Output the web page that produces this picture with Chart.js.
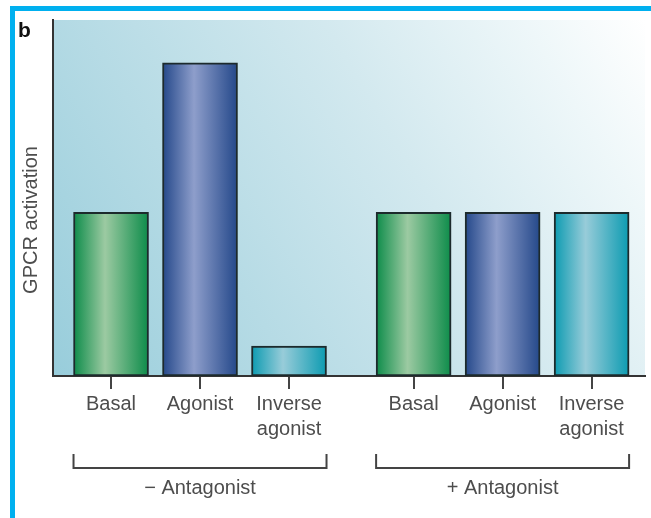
<!DOCTYPE html>
<html>
<head>
<meta charset="utf-8">
<script src="https://cdn.jsdelivr.net/npm/chart.js@4/dist/chart.umd.min.js"></script>
<style>
  html, body { margin: 0; padding: 0; background: #fff; }
  #wrap { width: 651px; height: 518px; }
</style>
</head>
<body>
<div id="wrap"><canvas id="chart"></canvas></div>
<script>
// Datos
const categories = ['Basal', 'Agonist', 'Inverse agonist'];
const groups = ['\u2212 Antagonist', '+ Antagonist'];
const withoutAntagonist = [46, 88, 8.4];
const withAntagonist = [46, 46, 46];
const yAxisTitle = 'GPCR activation';
const panelLetter = 'b';

// posiciones en el eje lineal: 3 barras por grupo, hueco entre grupos
const GROUP_STEP = 3.4;
const xPos = [];
const values = [];
const labels = [];
[withoutAntagonist, withAntagonist].forEach((serie, g) => {
    serie.forEach((v, i) => {
        xPos.push(g * GROUP_STEP + i);
        values.push(v);
        labels.push(categories[i]);
    });
});

const FONT = '"Liberation Sans", Arial, Helvetica, sans-serif';
const TEXT = '#4d4d4d';
const BAR_W = 75;

// [oscuro, claro] por tipo de barra
const shades = [
    ['#0d8c4a', '#9ccaa2'],
    ['#24488a', '#8e9ecb'],
    ['#0c9bb1', '#98ccd9']
];

function barFill(c) {
    const chart = c.chart;
    const sx = chart.scales.x;
    const pair = shades[c.dataIndex % 3];
    if (!sx || c.type !== 'data') return pair[0];
    const px = sx.getPixelForValue(xPos[c.dataIndex]);
    if (!isFinite(px)) return pair[0];
    const g = chart.ctx.createLinearGradient(px - BAR_W / 2, 0, px + BAR_W / 2, 0);
    g.addColorStop(0, pair[0]);
    g.addColorStop(0.42, pair[1]);
    g.addColorStop(1, pair[0]);
    return g;
}

// Fondo, marco y textos sueltos
const decor = {
    id: 'decor',
    beforeDraw(chart) {
        const { ctx, chartArea: a } = chart;
        ctx.save();
        ctx.fillStyle = '#fff';
        ctx.fillRect(0, 0, chart.width, chart.height);

        const bg = ctx.createLinearGradient(a.left, a.bottom, a.right, a.top);
        bg.addColorStop(0, '#98cddb');
        bg.addColorStop(0.3, '#b6dbe5');
        bg.addColorStop(0.6, '#d3e9ef');
        bg.addColorStop(0.85, '#eef7f9');
        bg.addColorStop(1, '#ffffff');
        ctx.fillStyle = bg;
        ctx.fillRect(a.left, a.top, a.right - a.left, a.bottom - a.top);

        // marco cian
        ctx.fillStyle = '#00b0ef';
        ctx.fillRect(10, 6, chart.width - 10, 5);
        ctx.fillRect(10, 6, 5, chart.height - 6);
        ctx.restore();
    },
    afterDraw(chart) {
        const { ctx } = chart;
        const sx = chart.scales.x;
        ctx.save();

        // letra del panel
        ctx.fillStyle = '#111';
        ctx.font = 'bold 21px ' + FONT;
        ctx.textAlign = 'left';
        ctx.textBaseline = 'alphabetic';
        ctx.fillText(panelLetter, 18, 37);

        // título del eje Y
        ctx.translate(37, 220);
        ctx.rotate(-Math.PI / 2);
        ctx.fillStyle = TEXT;
        ctx.font = '20px ' + FONT;
        ctx.textAlign = 'center';
        ctx.fillText(yAxisTitle, 0, 0);
        ctx.setTransform(1, 0, 0, 1, 0, 0);

        // corchetes de grupo
        ctx.strokeStyle = '#444';
        ctx.lineWidth = 2;
        groups.forEach((name, g) => {
            const first = sx.getPixelForValue(xPos[g * 3]) - BAR_W / 2;
            const last = sx.getPixelForValue(xPos[g * 3 + 2]) + BAR_W / 2;
            ctx.beginPath();
            ctx.moveTo(first, 454);
            ctx.lineTo(first, 468);
            ctx.lineTo(last, 468);
            ctx.lineTo(last, 454);
            ctx.stroke();
            ctx.fillStyle = TEXT;
            ctx.font = '20px ' + FONT;
            ctx.textAlign = 'center';
            ctx.fillText(name, (first + last) / 2, 494);
        });
        ctx.restore();
    }
};

new Chart(document.getElementById('chart'), {
    type: 'bar',
    data: {
        datasets: [{
            data: xPos.map((x, i) => ({ x: x, y: values[i] })),
            backgroundColor: barFill,
            borderColor: '#1c2a2c',
            borderWidth: 2,
            borderSkipped: false,
            barThickness: BAR_W
        }]
    },
    options: {
        responsive: true,
        maintainAspectRatio: false,
        animation: false,
        layout: { padding: { top: 20, right: 6, left: 0, bottom: 0 } },
        plugins: { legend: { display: false }, tooltip: { enabled: false } },
        scales: {
            x: {
                type: 'linear',
                min: -0.652,
                max: 6.0,
                offset: false,
                afterBuildTicks: scale => { scale.ticks = xPos.map(v => ({ value: v })); },
                afterFit: scale => { scale.height = 142; },
                grid: { offset: false, drawOnChartArea: false, drawTicks: true, tickLength: 13, color: '#444', lineWidth: 2 },
                border: { display: true, color: '#333', width: 2 },
                ticks: {
                    autoSkip: false,
                    maxRotation: 0,
                    padding: 3,
                    color: TEXT,
                    font: { family: FONT, size: 20, lineHeight: 1.25 },
                    callback: (v, i) => labels[i] === 'Inverse agonist' ? ['Inverse', 'agonist'] : labels[i]
                }
            },
            y: {
                min: 0,
                max: 100,
                afterFit: scale => { scale.width = 53; },
                grid: { display: false, drawTicks: false },
                border: { display: true, color: '#333', width: 2 },
                ticks: { display: false }
            }
        }
    },
    plugins: [decor]
});
</script>
</body>
</html>
